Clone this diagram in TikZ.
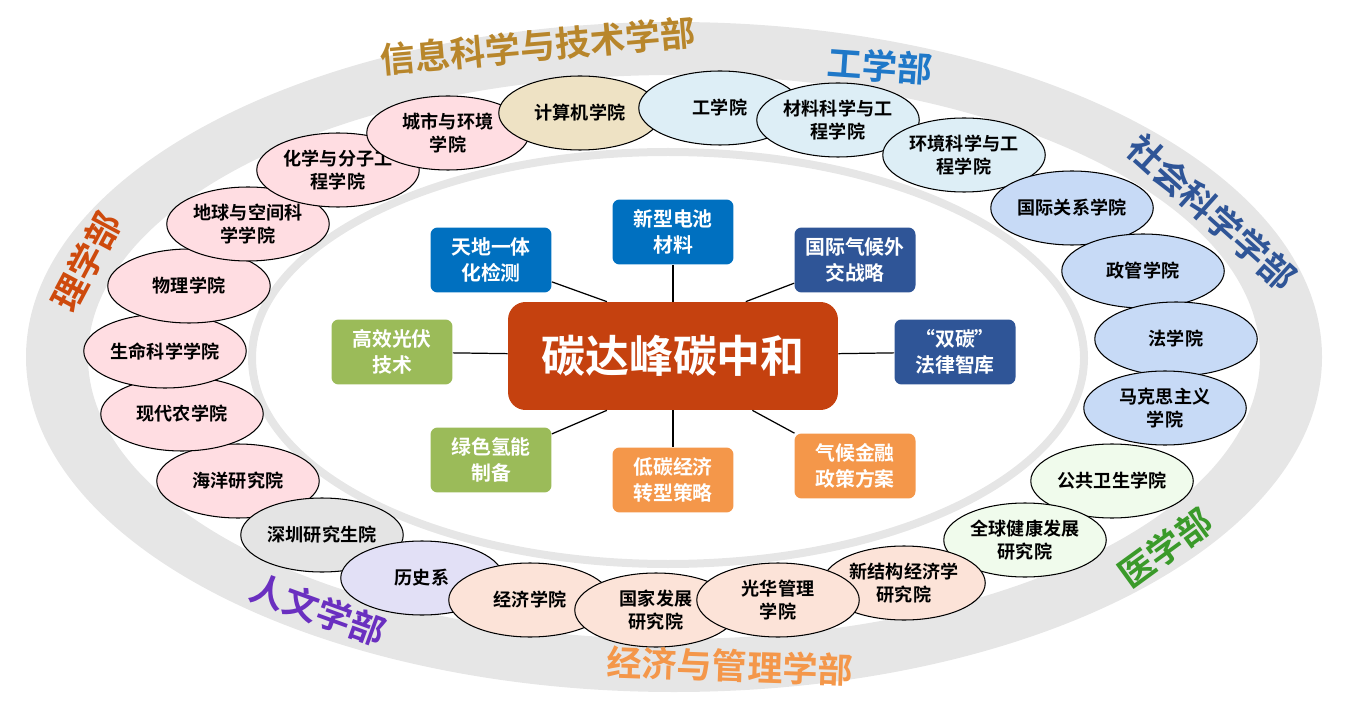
\documentclass[tikz,border=0pt]{standalone}
\usepackage{fontspec}
\setmainfont{Noto Sans CJK SC}[BoldFont={Noto Sans CJK SC Bold}]
\usetikzlibrary{shapes.geometric,calc}
\definecolor{ringgray}{HTML}{E6E6E6}
\definecolor{fpink}{HTML}{FFDDE2}
\definecolor{fgray}{HTML}{E4E4E4}
\definecolor{flav}{HTML}{E2E0F6}
\definecolor{fpeach}{HTML}{FCE3D8}
\definecolor{fgreen}{HTML}{F0FBEC}
\definecolor{fblue}{HTML}{C7DAF6}
\definecolor{fcyan}{HTML}{DDEEF6}
\definecolor{ftan}{HTML}{EEE2C4}
\definecolor{cred}{HTML}{C5410F}
\definecolor{bblue}{HTML}{0070C0}
\definecolor{bnavy}{HTML}{2F5597}
\definecolor{borange}{HTML}{F4974A}
\definecolor{bgreen}{HTML}{9BBB59}
\tikzset{
 col/.style={ellipse,draw=black,line width=0.6pt,minimum width=3.25cm,minimum height=1.48cm,inner sep=0pt,align=center,font=\bfseries\fontsize{10.3}{13}\selectfont},
 topic/.style={rounded corners=4pt,minimum width=2.42cm,minimum height=1.3cm,inner sep=0pt,align=center,text=white,font=\bfseries\fontsize{11.3}{15}\selectfont},
 dept/.style={font=\bfseries\fontsize{20}{23}\selectfont},
 link/.style={line width=0.7pt,black}
}
\begin{document}
\begin{tikzpicture}[x=0.02cm,y=-0.02cm]
\useasboundingbox (0,0) rectangle (1348,719);
\fill[ringgray,even odd rule] (674,357) ellipse [x radius=648,y radius=335] (674,357) ellipse [x radius=586,y radius=282];
\draw[ringgray,line width=8*0.02cm] (668,358) ellipse [x radius=416,y radius=206];
% colleges
\node[col,fill=fpink] (a7) at (238,481) {海洋研究院};
\node[col,fill=fpink] (a6) at (182,414) {现代农学院};
\node[col,fill=fpink] (a5) at (165,351) {生命科学学院};
\node[col,fill=fpink] (a4) at (189,286) {物理学院};
\node[col,fill=fpink] (a3) at (248,224) {地球与空间科\\学学院};
\node[col,fill=fpink] (a2) at (338,170) {化学与分子工\\程学院};
\node[col,fill=fpink] (a1) at (448,133) {城市与环境\\学院};
\node[col,fill=ftan] (b1) at (580,113) {计算机学院};
\node[col,fill=fcyan] (c1) at (720,108) {工学院};
\node[col,fill=fcyan] (c2) at (838,120) {材料科学与工\\程学院};
\node[col,fill=fcyan] (c3) at (964,155) {环境科学与工\\程学院};
\node[col,fill=fblue] (d1) at (1072,208) {国际关系学院};
\node[col,fill=fblue] (d2) at (1143,271) {政管学院};
\node[col,fill=fblue] (d3) at (1176,339) {法学院};
\node[col,fill=fblue] (d4) at (1165,408) {马克思主义\\学院};
\node[col,fill=fgreen] (e1) at (1112,481) {公共卫生学院};
\node[col,fill=fgreen] (e2) at (1025,540) {全球健康发展\\研究院};
\node[col,fill=fgray] (f1) at (322,535) {深圳研究生院};
\node[col,fill=flav] (g1) at (422,578) {历史系};
\node[col,fill=fpeach] (h1) at (530,600) {经济学院};
\node[col,fill=fpeach] (h4) at (904,583) {新结构经济学\\研究院};
\node[col,fill=fpeach] (h2) at (656,610) {国家发展\\研究院};
\node[col,fill=fpeach] (h3) at (778,600) {光华管理\\学院};
% departments
\node[dept,text=cred!85!orange,rotate=62] at (86,262) {理学部};
\node[dept,text={rgb,255:red,184;green,134;blue,43},rotate=5] at (538,46) {信息科学与技术学部};
\node[dept,text={rgb,255:red,31;green,120;blue,200},rotate=-4] at (880,66) {工学部};
\node[dept,text=bnavy,rotate=-42] at (1212,212) {社会科学学部};
\node[dept,text={rgb,255:red,58;green,154;blue,42},rotate=36] at (1165,548) {医学部};
\node[dept,text=borange,rotate=-2] at (730,666) {经济与管理学部};
\node[dept,text={rgb,255:red,106;green,47;blue,192},rotate=-20] at (318,610) {人文学部};
% center
\node[fill=cred,rounded corners=10pt,minimum width=6.6cm,minimum height=2.16cm,text=white,font=\bfseries\fontsize{25}{28}\selectfont] (c) at (673,356) {碳达峰碳中和};
\node[topic,fill=bblue] (t1) at (491,260) {天地一体\\化检测};
\node[topic,fill=bblue] (t2) at (673,232) {新型电池\\材料};
\node[topic,fill=bnavy] (t3) at (855,260) {国际气候外\\交战略};
\node[topic,fill=bnavy] (t4) at (955,352) {“双碳”\\法律智库};
\node[topic,fill=borange] (t5) at (855,466) {气候金融\\政策方案};
\node[topic,fill=borange] (t6) at (673,480) {低碳经济\\转型策略};
\node[topic,fill=bgreen] (t7) at (491,460) {绿色氢能\\制备};
\node[topic,fill=bgreen] (t8) at (392,352) {高效光伏\\技术};
\coordinate (p1) at ($(c.north west)!0.3!(c.north east)$);
\coordinate (p3) at ($(c.north west)!0.72!(c.north east)$);
\coordinate (p5) at ($(c.south west)!0.74!(c.south east)$);
\coordinate (p7) at ($(c.south west)!0.3!(c.south east)$);
\draw[link] (t1) -- (p1);
\draw[link] (t2) -- (c);
\draw[link] (t3) -- (p3);
\draw[link] (t4) -- (c);
\draw[link] (t5) -- (p5);
\draw[link] (t6) -- (c);
\draw[link] (t7) -- (p7);
\draw[link] (t8) -- (c);
\end{tikzpicture}
\end{document}
